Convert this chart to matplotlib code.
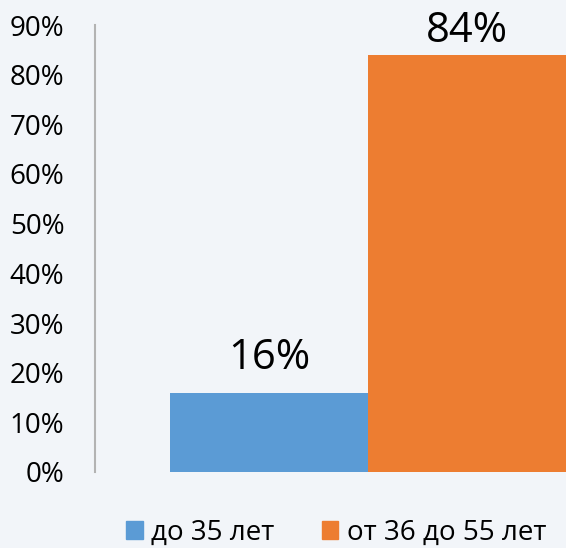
import matplotlib.pyplot as plt
from matplotlib.patches import Patch

plt.rcParams['font.family'] = ['Open Sans', 'DejaVu Sans']

series = ["до 35 лет", "от 36 до 55 лет"]
values = [0.16, 0.84]
labels = ["16%", "84%"]
colors = ["#5b9bd5", "#ed7d31"]
bg = "#f2f5f9"

W, H = 566, 548
fig = plt.figure(figsize=(W / 100, H / 100), dpi=100, facecolor=bg)
ax = fig.add_axes([95 / W, 1 - 472 / H, (W - 95) / W, (472 - 25) / H])
ax.set_facecolor(bg)

pos = [0, 1]
bars = ax.bar(pos, values, width=1.0, color=colors)
# label gap above the bar (points); the tall one is squeezed by the top edge
gaps = [17, 9.5]
for b, t, g in zip(bars, labels, gaps):
    ax.annotate(t, (b.get_x() + b.get_width() / 2, b.get_height()),
                xytext=(0, g), textcoords="offset points",
                ha="center", va="baseline", fontsize=30, annotation_clip=False)

ax.set_xlim(-0.879, 1.5)
ax.set_ylim(0, 0.9)
ax.set_yticks([i / 10 for i in range(10)])
ax.set_yticklabels([f"{i * 10}%" for i in range(10)], fontsize=20)
ax.tick_params(axis="y", length=0, pad=22)
ax.set_xticks([])
for s in ["top", "right", "bottom"]:
    ax.spines[s].set_visible(False)
ax.spines["left"].set_color("#b3b3b3")
ax.spines["left"].set_linewidth(1.5)

handles = [Patch(color=c) for c in colors]
fig.legend(handles, series, loc="center", bbox_to_anchor=(0.594, 1 - 533 / H),
           ncol=2, frameon=False, fontsize=20, handlelength=0.6, handleheight=0.6,
           handletextpad=0.3, columnspacing=1.7, borderpad=0)

fig.savefig("out.png", dpi=100, facecolor=bg)
